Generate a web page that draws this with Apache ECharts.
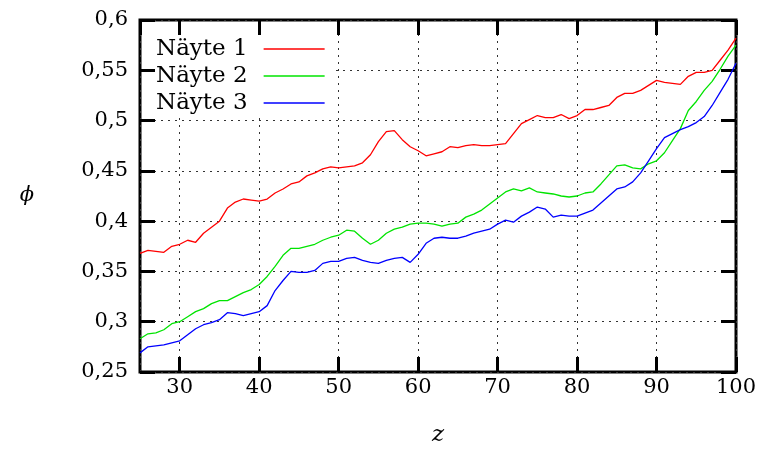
<!DOCTYPE html>
<html>
<head>
<meta charset="utf-8">
<script src="https://cdn.jsdelivr.net/npm/echarts@6/dist/echarts.min.js"></script>
<style>
  html, body { margin: 0; padding: 0; background: #fff; }
  #chart { width: 762px; height: 452px; }
</style>
</head>
<body>
<div id="chart"></div>
<script>
// Sample depth z and porosity-like values for three samples
const zValues = [25, 26, 27, 28, 29, 30, 31, 32, 33, 34, 35, 36, 37, 38, 39, 40, 41, 42, 43, 44,
  45, 46, 47, 48, 49, 50, 51, 52, 53, 54, 55, 56, 57, 58, 59, 60, 61, 62, 63, 64,
  65, 66, 67, 68, 69, 70, 71, 72, 73, 74, 75, 76, 77, 78, 79, 80, 81, 82, 83, 84,
  85, 86, 87, 88, 89, 90, 91, 92, 93, 94, 95, 96, 97, 98, 99, 100];

const naeyte1 = [0.368, 0.371, 0.370, 0.369, 0.375, 0.377, 0.381, 0.379, 0.388, 0.394,
  0.400, 0.413, 0.419, 0.422, 0.421, 0.420, 0.422, 0.428, 0.432, 0.437,
  0.439, 0.445, 0.448, 0.452, 0.454, 0.453, 0.454, 0.455, 0.458, 0.466,
  0.479, 0.489, 0.490, 0.481, 0.474, 0.470, 0.465, 0.467, 0.469, 0.474,
  0.473, 0.475, 0.476, 0.475, 0.475, 0.476, 0.477, 0.487, 0.497, 0.501,
  0.505, 0.503, 0.503, 0.506, 0.502, 0.505, 0.511, 0.511, 0.513, 0.515,
  0.523, 0.527, 0.527, 0.530, 0.535, 0.540, 0.538, 0.537, 0.536, 0.544,
  0.548, 0.548, 0.550, 0.560, 0.570, 0.582];

const naeyte2 = [0.283, 0.288, 0.289, 0.292, 0.298, 0.300, 0.305, 0.310, 0.313, 0.318,
  0.321, 0.321, 0.325, 0.329, 0.332, 0.337, 0.345, 0.355, 0.366, 0.373,
  0.373, 0.375, 0.377, 0.381, 0.384, 0.386, 0.391, 0.390, 0.383, 0.377,
  0.381, 0.388, 0.392, 0.394, 0.397, 0.398, 0.398, 0.397, 0.395, 0.397,
  0.398, 0.404, 0.407, 0.411, 0.417, 0.423, 0.429, 0.432, 0.430, 0.433,
  0.429, 0.428, 0.427, 0.425, 0.424, 0.425, 0.428, 0.429, 0.437, 0.446,
  0.455, 0.456, 0.453, 0.452, 0.457, 0.460, 0.468, 0.480, 0.492, 0.510,
  0.519, 0.530, 0.539, 0.551, 0.564, 0.575];

const naeyte3 = [0.269, 0.275, 0.276, 0.277, 0.279, 0.281, 0.287, 0.293, 0.297, 0.299,
  0.302, 0.309, 0.308, 0.306, 0.308, 0.310, 0.316, 0.331, 0.341, 0.350,
  0.349, 0.349, 0.351, 0.358, 0.360, 0.360, 0.363, 0.364, 0.361, 0.359,
  0.358, 0.361, 0.363, 0.364, 0.359, 0.367, 0.378, 0.383, 0.384, 0.383,
  0.383, 0.385, 0.388, 0.390, 0.392, 0.397, 0.401, 0.399, 0.405, 0.409,
  0.414, 0.412, 0.404, 0.406, 0.405, 0.405, 0.408, 0.411, 0.418, 0.425,
  0.432, 0.434, 0.439, 0.448, 0.460, 0.472, 0.483, 0.487, 0.491, 0.494,
  0.498, 0.504, 0.515, 0.528, 0.541, 0.557];

const seriesNames = ['Näyte 1', 'Näyte 2', 'Näyte 3'];
const seriesColors = ['#ff0000', '#00e400', '#0000ff'];
const seriesValues = [naeyte1, naeyte2, naeyte3];

const FONT = 'DejaVu Serif';
const dotted = { color: '#333', width: 1, type: [2, 5] };
const tickStyle = { show: true, inside: true, length: 15, lineStyle: { color: '#000', width: 3 } };

const chart = echarts.init(document.getElementById('chart'), null, { renderer: 'canvas' });

chart.setOption({
  animation: false,
  backgroundColor: '#fff',
  grid: {
    left: 140, right: 26, top: 20, bottom: 78,
    show: true, borderColor: '#000', borderWidth: 3, backgroundColor: 'transparent'
  },
  legend: {
    orient: 'vertical',
    align: 'right',
    left: 142, top: 22,
    padding: [14, 10, 0, 14],
    backgroundColor: '#fff',
    itemWidth: 61, itemHeight: 26, itemGap: 1,
    selectedMode: false,
    itemStyle: { opacity: 0 },
    lineStyle: { width: 1.3 },
    textStyle: { fontFamily: FONT, fontSize: 23, color: '#000', lineHeight: 26, padding: [0, 11, 0, 0] },
    data: seriesNames
  },
  xAxis: [
    {
      type: 'value', position: 'bottom', min: 25, max: 100, splitNumber: 8, z: 0,
      name: 'z', nameLocation: 'middle', nameGap: 52,
      nameTextStyle: { fontFamily: FONT, fontStyle: 'italic', fontSize: 23, color: '#000' },
      axisLine: { show: false },
      axisTick: tickStyle,
      axisLabel: { fontFamily: FONT, fontSize: 21, color: '#000', margin: 5, showMinLabel: false },
      splitLine: { show: true, lineStyle: dotted }
    },
    {
      type: 'value', position: 'top', min: 25, max: 100, splitNumber: 8, z: 5,
      axisLine: { show: false },
      axisTick: tickStyle,
      axisLabel: { show: false },
      splitLine: { show: false }
    }
  ],
  yAxis: [
    {
      type: 'value', position: 'left', min: 0.25, max: 0.6, interval: 0.05, z: 5,
      name: 'ϕ', nameLocation: 'middle', nameRotate: 0, nameGap: 106,
      nameTextStyle: { fontFamily: FONT, fontStyle: 'italic', fontSize: 21, color: '#000' },
      axisLine: { show: false },
      axisTick: tickStyle,
      axisLabel: {
        fontFamily: FONT, fontSize: 21, color: '#000', margin: 12,
        formatter: v => String(+v.toFixed(2)).replace('.', ',')
      },
      splitLine: { show: false }
    },
    {
      type: 'value', position: 'right', min: 0.25, max: 0.6, interval: 0.05, z: 0,
      axisLine: { show: false },
      axisTick: tickStyle,
      axisLabel: { show: false },
      splitLine: { show: true, lineStyle: dotted }
    }
  ],
  series: seriesNames.map((name, i) => ({
    name,
    type: 'line',
    xAxisIndex: 0,
    yAxisIndex: 0,
    symbol: 'none',
    z: 3,
    color: seriesColors[i],
    lineStyle: { color: seriesColors[i], width: 1.3 },
    data: zValues.map((z, k) => [z, seriesValues[i][k]])
  }))
});
</script>
</body>
</html>
